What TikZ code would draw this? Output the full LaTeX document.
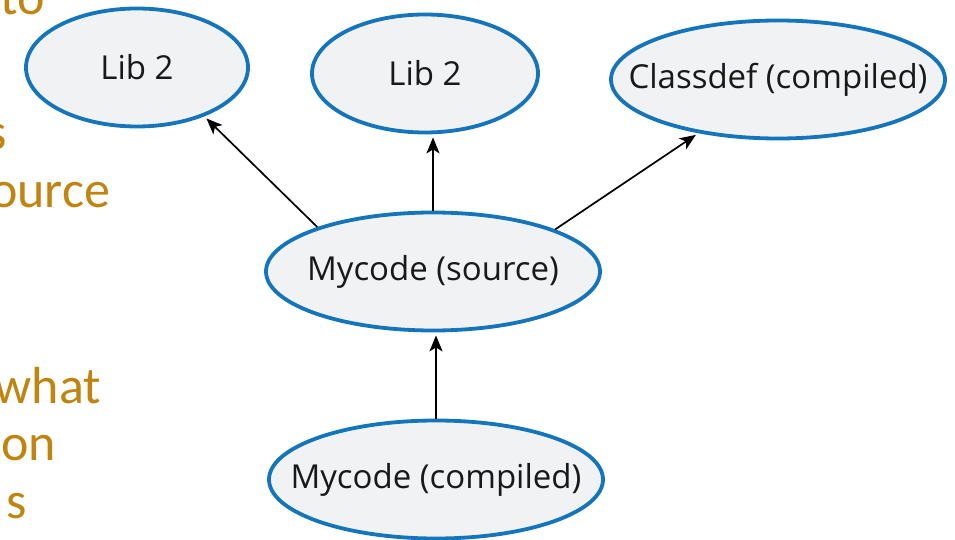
\documentclass[tikz,border=0pt]{standalone}
\usepackage{fontspec}
\setmainfont{Open Sans}
\newfontfamily\slidefont{Carlito}
\usepackage{tikz}
\usetikzlibrary{positioning,shapes.geometric,arrows.meta}
\definecolor{nodeblue}{RGB}{20,116,188}
\definecolor{nodefill}{RGB}{241,242,244}
\definecolor{slideorange}{RGB}{192,132,16}
\newcommand{\nodetext}[1]{\makebox[0pt]{#1}}

\begin{document}
\begin{tikzpicture}[-{Stealth[length=16pt,width=13pt,inset=4pt]}, auto, on grid, line width=1.7pt,
state/.style ={ellipse, fill = nodefill, draw = nodeblue, line width=3.8pt, text = black!90, inner sep=0pt, minimum height=118pt, font=\fontsize{33}{38}\selectfont},
slide/.style ={anchor=base east, text = slideorange, inner sep=0pt, font=\slidefont\fontsize{52}{58}\selectfont}]
\useasboundingbox (0,0) rectangle (955pt,539pt);
\clip (0,0) rectangle (955pt,539pt);

% slide text behind the picture
\node[slide] (t1) at (46pt,524pt) {to};
\node[slide] (t2) at (8pt,389pt) {s};
\node[slide] (t3) at (111pt,331pt) {ource};
\node[slide] (t4) at (102pt,136pt) {what};
\node[slide] (t5) at (57pt,79pt) {on};
\node[slide] (t6) at (28pt,21pt) {s};

\node[state, minimum width=334pt] (src) at (433pt,267.5pt) {\nodetext{Mycode (source)}};
\node[state, minimum width=222pt] (liba) [above left = 204pt and 296pt of src] {\nodetext{Lib 2}};
\node[state, minimum width=226pt] (libb) [above left = 198pt and 8pt of src] {\nodetext{Lib 2}};
\node[state, minimum width=334pt] (cls) [above right = 192pt and 345pt of src] {\nodetext{Classdef (compiled)}};
\node[state, minimum width=334pt] (cmp) [below right = 208pt and 3pt of src] {\nodetext{Mycode (compiled)}};

\draw [shorten >=3pt] (src.159) to (liba.-36);
\draw [shorten >=3pt] (src.north) to (src.north |- libb.south);
\draw [shorten >=3pt] (src.19) to (cls.-146);
\draw [shorten >=3pt] (cmp.north) to (cmp.north |- src.south);
\end{tikzpicture}
\end{document}
